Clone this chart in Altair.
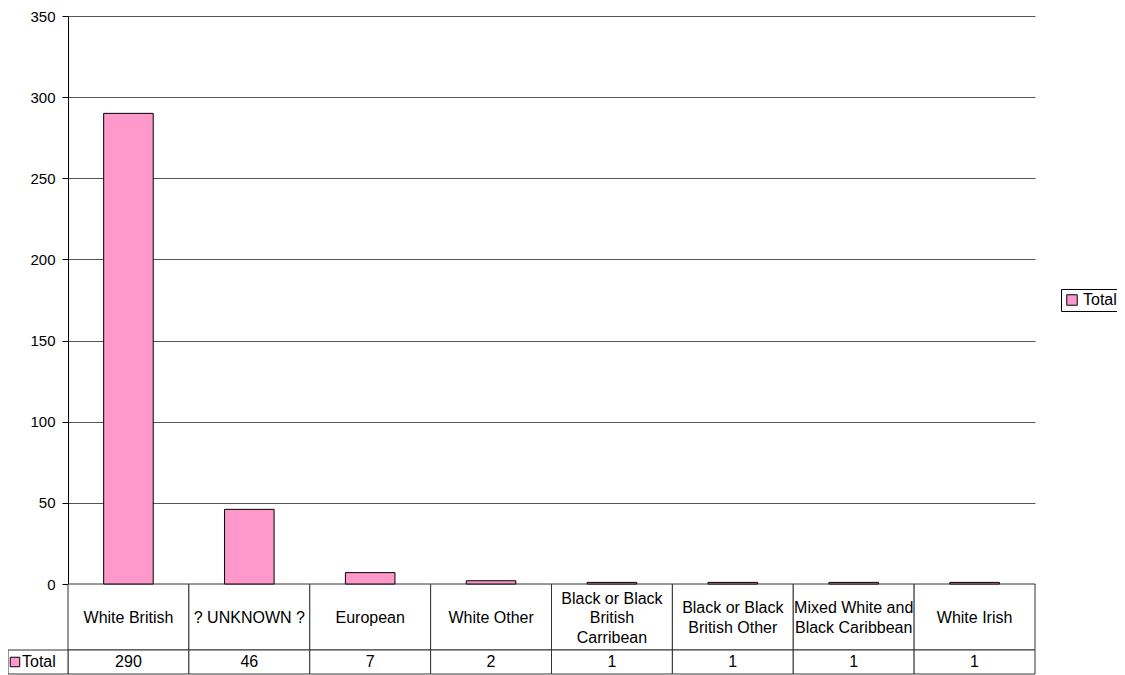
import altair as alt
import pandas as pd

categories = ["White British", "? UNKNOWN ?", "European", "White Other",
              "Black or Black British Carribean", "Black or Black British Other",
              "Mixed White and Black Caribbean", "White Irish"]
labels = ["White British", "? UNKNOWN ?", "European", "White Other",
          "Black or Black\nBritish\nCarribean", "Black or Black\nBritish Other",
          "Mixed White and\nBlack Caribbean", "White Irish"]
totals = [290, 46, 7, 2, 1, 1, 1, 1]
series_name = "Total"
y_ticks = [0, 50, 100, 150, 200, 250, 300, 350]

FONT = "Liberation Sans"
PINK = "#FF99CC"
FS = 15
TFS = 16
LH = 19.5

df = pd.DataFrame({"cat": categories, "label": labels, "value": totals,
                   "series": [series_name] * len(categories)})
df["vtext"] = df["value"].astype(str)
df["nlines"] = df["label"].str.count("\n") + 1

xenc = alt.X("cat:N", sort=categories,
             scale=alt.Scale(paddingInner=0, paddingOuter=0), axis=None)

base = alt.Chart(df)

bars = base.mark_bar(stroke="black", strokeWidth=1,
                     width=alt.RelativeBandSize(0.41)).encode(
    x=xenc,
    y=alt.Y("value:Q", scale=alt.Scale(domain=[0, 350], nice=False),
            axis=alt.Axis(values=y_ticks, title=None, grid=True,
                          gridColor="#555555", gridWidth=1,
                          domainColor="black", tickColor="black", tickSize=6,
                          labelFont=FONT, labelFontSize=FS, labelColor="black",
                          labelPadding=7)),
    color=alt.Color("series:N", scale=alt.Scale(range=[PINK]),
                    legend=alt.Legend(orient="none", legendX=993, legendY=273,
                                      title=None, strokeColor="black",
                                      fillColor="white", padding=3,
                                      symbolType="square",
                                      symbolStrokeColor="black",
                                      symbolStrokeWidth=1, symbolSize=110,
                                      labelFont=FONT, labelFontSize=TFS,
                                      labelColor="black", cornerRadius=0,
                                      labelOffset=3)),
)

cells_cat = base.mark_rect(fill="white", stroke="#333", strokeWidth=1).encode(
    x=xenc, y=alt.value(568), y2=alt.value(634))
cells_val = base.mark_rect(fill="white", stroke="#333", strokeWidth=1).encode(
    x=xenc, y=alt.value(634), y2=alt.value(658))

text_layers = []
for n in (1, 2, 3):
    text_layers.append(
        base.transform_filter(alt.datum.nlines == n).mark_text(
            font=FONT, fontSize=TFS, color="black", lineBreak="\n",
            baseline="middle", lineHeight=LH, dy=-(n - 1) * LH / 2).encode(
            x=xenc, y=alt.value(602), text="label:N"))

text_val = base.mark_text(font=FONT, fontSize=TFS, color="black",
                          baseline="middle").encode(
    x=xenc, y=alt.value(646), text="vtext:N")

lab = alt.Chart(pd.DataFrame({"s": [series_name]}))
left_cell = lab.mark_rect(fill="white", stroke="#333", strokeWidth=1).encode(
    x=alt.value(-60), x2=alt.value(0), y=alt.value(634), y2=alt.value(658))
left_sw = lab.mark_square(size=90, fill=PINK, stroke="black", strokeWidth=1,
                          opacity=1).encode(x=alt.value(-53), y=alt.value(646))
left_txt = lab.mark_text(font=FONT, fontSize=TFS, color="black", align="left",
                         baseline="middle").encode(
    x=alt.value(-46), y=alt.value(646), text="s:N")

chart = alt.layer(cells_cat, cells_val, bars, *text_layers, text_val,
                  left_cell, left_sw, left_txt).properties(
    width=967, height=568,
    background="white",
    autosize=alt.AutoSizeParams(type="none"),
    padding={"left": 60, "top": 8, "right": 82, "bottom": 91},
).configure_view(stroke="transparent", strokeWidth=0)

chart.save("out.html", embed_options={"renderer": "svg", "actions": False})
